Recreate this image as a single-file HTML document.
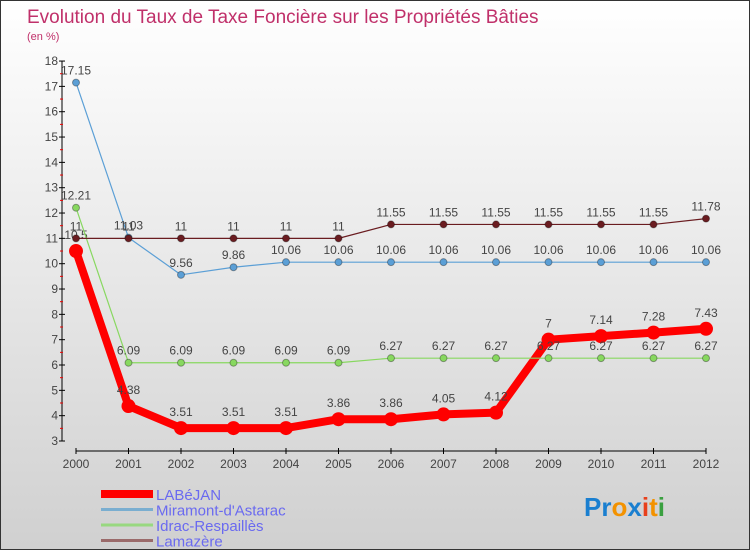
<!DOCTYPE html>
<html><head><meta charset="utf-8"><style>
body{margin:0}
#c{width:748px;height:548px;border:1px solid #333;background:linear-gradient(#fff,#d0d0d0);position:relative;overflow:hidden;font-family:"Liberation Sans",sans-serif}
</style></head><body>
<div id="c">
<svg width="748" height="548" id="s">
<text x="26" y="22" font-size="19" fill="#c0306a">Evolution du Taux de Taxe Foncière sur les Propriétés Bâties</text>
<text x="26" y="39" font-size="11" fill="#c0306a">(en %)</text>
<g id="g"></g>
<text x="583" y="515" font-size="26" font-weight="bold"><tspan fill="#1a7fd0">Pr</tspan><tspan fill="#f39200">o</tspan><tspan fill="#1a7fd0">x</tspan><tspan fill="#e8401c">i</tspan><tspan fill="#f39200">t</tspan><tspan fill="#3aa040">i</tspan></text>
</svg></div>
<script>
const years=[2000,2001,2002,2003,2004,2005,2006,2007,2008,2009,2010,2011,2012];
const labejan=[10.5,4.38,3.51,3.51,3.51,3.86,3.86,4.05,4.12,7,7.14,7.28,7.43];
const miramont=[17.15,11.03,9.56,9.86,10.06,10.06,10.06,10.06,10.06,10.06,10.06,10.06,10.06];
const idrac=[12.21,6.09,6.09,6.09,6.09,6.09,6.27,6.27,6.27,6.27,6.27,6.27,6.27];
const lamazere=[11,11,11,11,11,11,11.55,11.55,11.55,11.55,11.55,11.55,11.78];
const yTicks=[3,4,5,6,7,8,9,10,11,12,13,14,15,16,17,18];
const seriesNames=["LABéJAN","Miramont-d'Astarac","Idrac-Respaillès","Lamazère"];
const X=i=>75+i*52.5, Y=v=>440-(v-3)*25.33;
const g=document.getElementById('g'),NS="http://www.w3.org/2000/svg";
function el(t,a,txt){const e=document.createElementNS(NS,t);for(const k in a)e.setAttribute(k,a[k]);if(txt!==undefined)e.textContent=txt;g.appendChild(e);return e;}
let ax=el('line',{x1:61,y1:60,x2:61,y2:440,stroke:'#000'});


yTicks.forEach(v=>{
 let t=el('line',{x1:58,x2:64,y1:Y(v),y2:Y(v),stroke:'#000'});
 
 
 if(v<18){let m=el('line',{x1:59,x2:62,y1:Y(v+0.5),y2:Y(v+0.5),stroke:'#e00'});
 
 }
 let l=el('text',{x:57,y:Y(v)+4,'font-size':12,fill:'#444','text-anchor':'end'},v);
 
 
});
let xa=el('line',{x1:75,y1:450,x2:X(12),y2:450,stroke:'#000'});


years.forEach((y,i)=>{
 let t=el('line',{x1:X(i),x2:X(i),y1:447,y2:453,stroke:'#000'});
 
 
 let l=el('text',{x:X(i),y:467,'font-size':12,fill:'#444','text-anchor':'middle'},y);
 
 
});
function series(data,color,w,r,name){
 let p=el('polyline',{points:data.map((v,i)=>X(i)+','+Y(v)).join(' '),fill:'none',stroke:color,'stroke-width':w,'stroke-linejoin':'round'});
 
 
 data.forEach((v,i)=>{
  let c=el('circle',{cx:X(i),cy:Y(v),r:r,fill:color,stroke:w>3?'none':'#00000055'});
  
  
  let l=el('text',{x:X(i),y:Y(v)-(w>3?12:8),'font-size':12,fill:'#444','text-anchor':'middle'},v);
  
  
 });
}
series(labejan,'#f00',8,7,'labejan');
series(idrac,'#88d860',1.2,3.5,'idrac');
series(miramont,'#5b9fd6',1.2,3.5,'miramont');
series(lamazere,'#6a1c20',1.2,3.5,'lamazere');
const lc=['#f00','#7aaed0','#98d880','#9a6a6a'],lw=[8,3,3,3];
seriesNames.forEach((n,i)=>{
 let y=493+i*15.5;
 let s=el('line',{x1:100,x2:152,y1:y,y2:y,stroke:lc[i],'stroke-width':lw[i]});
 
 
 let t=el('text',{x:155,y:y+6,'font-size':15,fill:'#6a6af0'},n);
 
 
});
</script>
</body></html>
